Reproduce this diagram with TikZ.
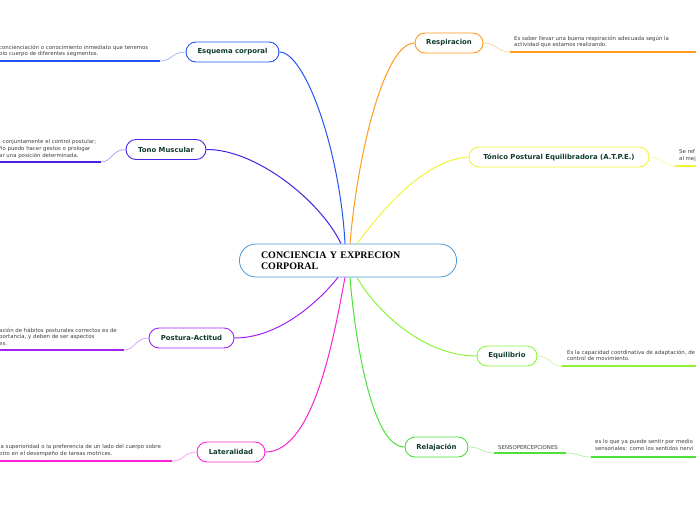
\documentclass[tikz,border=0pt]{standalone}
\usepackage{fontspec}
\setmainfont{Liberation Serif}
\setsansfont{DejaVu Sans}
\usetikzlibrary{shapes.misc}

\definecolor{cCtr}{HTML}{4A9AD8}
\definecolor{cEsq}{HTML}{2352F5}
\definecolor{cTono}{HTML}{4B22E6}
\definecolor{cPost}{HTML}{A222F2}
\definecolor{cLat}{HTML}{FA22D2}
\definecolor{cResp}{HTML}{FF9A1E}
\definecolor{cTonico}{HTML}{F2F23A}
\definecolor{cEqui}{HTML}{8CF23A}
\definecolor{cRel}{HTML}{4AE23A}
\definecolor{topicText}{HTML}{0E3B2E}
\definecolor{noteText}{HTML}{404040}

\tikzset{
  topic/.style={rounded rectangle, draw=#1, line width=0.9pt, fill=white,
    font=\sffamily\bfseries\fontsize{6.9}{8}\selectfont, text=topicText,
    minimum height=20pt, inner sep=0pt},
  branch/.style={draw=#1, line width=1pt},
  twig/.style={draw=#1!45, line width=0.7pt},
  uline/.style={draw=#1, line width=1.6pt},
  note/.style={font=\sffamily\fontsize{5.4}{6.8}\selectfont, text=noteText,
    align=left, inner sep=0pt, anchor=north west}
}

\begin{document}
\begin{tikzpicture}[x=1pt, y=-1pt]
      \fill[white] (0, 0) rectangle (696, 520);
      \useasboundingbox (0, 0) rectangle (696, 520);

      % centre
      \node[rounded rectangle, draw=cCtr, line width=0.8pt, fill=white,
        minimum width=212pt, minimum height=33pt, text width=174pt,
        inner xsep=19pt, align=left, font=\rmfamily\bfseries\fontsize{10}{11}\selectfont]
        (ctr) at (348, 260.5) {CONCIENCIA Y EXPRECION\\CORPORAL};

      % left side
      \node[topic=cEsq, minimum width=93pt] (esq) at (232.5, 52) {Esquema corporal};
      \node[topic=cTono, minimum width=80pt] (tono) at (166, 149.5) {Tono Muscular};
      \node[topic=cPost, minimum width=85pt] (post) at (191.5, 338) {Postura-Actitud};
      \node[topic=cLat, minimum width=68pt] (lat) at (231, 452) {Lateralidad};

      % right side
      \node[topic=cResp, minimum width=68pt] (resp) at (449, 43) {Respiracion};
      \node[topic=cTonico, minimum width=180pt] (tonico) at (559, 157) {Tónico Postural Equilibradora (A.T.P.E.)};
      \node[topic=cEqui, minimum width=60pt] (equi) at (507, 356) {Equilibrio};
      \node[topic=cRel, minimum width=63pt] (rel) at (436.5, 447) {Relajación};

      % branches
      \draw[branch=cEsq] (esq.east) .. controls (305, 52) and (340, 150) .. ([xshift=-3pt]ctr.north);
      \draw[branch=cTono] (tono.east) .. controls (255, 149) and (320, 200) .. ([xshift=-7pt]ctr.north);
      \draw[branch=cResp] (resp.west) .. controls (385, 43) and (358, 150) .. ([xshift=2pt]ctr.north);
      \draw[branch=cTonico] (tonico.west) .. controls (420, 160) and (375, 220) .. ([xshift=9pt]ctr.north);
      \draw[branch=cPost] (post.east) .. controls (280, 338) and (320, 300) .. ([xshift=-10pt]ctr.south);
      \draw[branch=cLat] (lat.east) .. controls (315, 452) and (335, 330) .. ([xshift=-3pt]ctr.south);
      \draw[branch=cEqui] (equi.west) .. controls (420, 356) and (372, 305) .. ([xshift=9pt]ctr.south);
      \draw[branch=cRel] (rel.west) .. controls (372, 447) and (355, 340) .. ([xshift=2pt]ctr.south);

      % notes, left
      \coordinate (esqA) at (160, 61);
      \coordinate (esqB) at (-1, 61);
      \draw[twig=cEsq] (esq.west) .. controls (172, 52) and (172, 61) .. (esqA);
      \draw[uline=cEsq] (esqA) -- (esqB);
      \node[note] (esqNote) at (-1, 44.5) {concienciación o conocimiento inmediato que tenemos\\pio cuerpo de diferentes segmentos.};

      \coordinate (tonoA) at (101, 162);
      \coordinate (tonoB) at (-1, 162);
      \draw[twig=cTono] (tono.west) .. controls (112, 149.5) and (112, 162) .. (tonoA);
      \draw[uline=cTono] (tonoA) -- (tonoB);
      \node[note] (tonoNote) at (-1, 139.5) {, conjuntamente el control postular;\\ño puedo hacer gestos o  prologar\\ar una posición determinada.};

      \coordinate (postA) at (124, 350);
      \coordinate (postB) at (-1, 350);
      \draw[twig=cPost] (post.west) .. controls (135, 338) and (135, 350) .. (postA);
      \draw[uline=cPost] (postA) -- (postB);
      \node[note] (postNote) at (-1, 327.5) {ación de hábitos posturales correctos es de\\portancia, y deben de ser aspectos\\es.};

      \coordinate (latA) at (172, 461);
      \coordinate (latB) at (-1, 461);
      \draw[twig=cLat] (lat.west) .. controls (184, 452) and (184, 461) .. (latA);
      \draw[uline=cLat] (latA) -- (latB);
      \node[note] (latNote) at (-1, 444) {la superioridad o la preferencia de un lado del cuerpo sobre\\otro en el desempeño de tareas motrices.};

      % notes, right
      \coordinate (respA) at (510, 52);
      \coordinate (respB) at (697, 52);
      \draw[twig=cResp] (resp.east) .. controls (497, 43) and (497, 52) .. (respA);
      \draw[uline=cResp] (respA) -- (respB);
      \node[note] (respNote) at (514, 35.5) {Es saber llevar una buena respiración adecuada según la\\actividad que estamos realizando.};

      \coordinate (tonicoA) at (675, 166);
      \coordinate (tonicoB) at (697, 166);
      \draw[twig=cTonico] (tonico.east) .. controls (663, 157) and (663, 166) .. (tonicoA);
      \draw[uline=cTonico] (tonicoA) -- (tonicoB);
      \node[note] (tonicoNote) at (679, 149.5) {Se ref\\al mej};

      \coordinate (equiA) at (562, 366);
      \coordinate (equiB) at (697, 366);
      \draw[twig=cEqui] (equi.east) .. controls (550, 356) and (550, 366) .. (equiA);
      \draw[uline=cEqui] (equiA) -- (equiB);
      \node[note] (equiNote) at (567, 349.5) {Es la capacidad coordinativa de adaptación, de\\control de movimiento.};

      \coordinate (relA) at (494, 453);
      \coordinate (relB) at (566, 453);
      \draw[twig=cRel] (rel.east) .. controls (482, 447) and (482, 453) .. (relA);
      \draw[uline=cRel] (relA) -- (relB);
      \node[note, anchor=south west, inner ysep=2pt] (senso) at (498, 451.5) {SENSOPERCEPCIONES};

      \coordinate (sensoA) at (591, 457);
      \coordinate (sensoB) at (697, 457);
      \draw[twig=cRel] (relB) .. controls (579, 453) and (579, 457) .. (sensoA);
      \draw[uline=cRel] (sensoA) -- (sensoB);
      \node[note] (sensoNote) at (595, 439) {es lo que ya puede sentir por medio\\sensoriales: como los sentidos nervi};
\end{tikzpicture}
\end{document}
